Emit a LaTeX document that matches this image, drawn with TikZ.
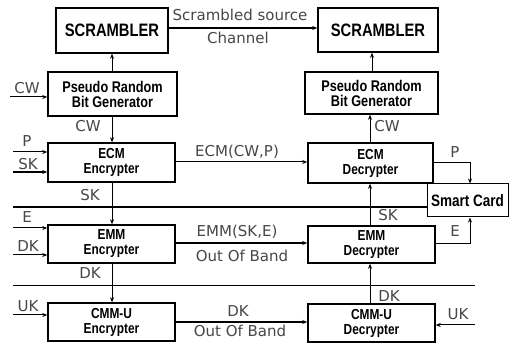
\documentclass[tikz,border=0pt]{standalone}
\usepackage{fontspec}
\usetikzlibrary{arrows.meta}
\newfontfamily\boxf[FakeStretch=0.82]{Liberation Sans}
\newfontfamily\labf{DejaVu Sans}
\tikzset{
  blk/.style={draw, line width=1.5pt, inner sep=0pt, align=center, text=black},
  bigtxt/.style={font=\boxf\bfseries\fontsize{18}{19}\selectfont},
  midtxt/.style={font=\boxf\bfseries\fontsize{15.5}{15}\selectfont},
  smtxt/.style={font=\boxf\bfseries\fontsize{14.5}{15}\selectfont},
  sctxt/.style={font=\boxf\bfseries\fontsize{16.5}{17}\selectfont},
  lab/.style={font=\labf\fontsize{15}{16}\selectfont, text=black!72, inner sep=0pt},
  conn/.style={line width=1pt, -{Stealth[length=5pt,width=4pt]}},
}
\begin{document}
\begin{tikzpicture}[x=1pt,y=-1pt]
\useasboundingbox (0,0) rectangle (509,344);
\fill[white] (0,0) rectangle (509,344);
% boxes
\node[blk,bigtxt,minimum width=112pt,minimum height=45pt] (scrL) at (112,30.5) {SCRAMBLER};
\node[blk,bigtxt,minimum width=120pt,minimum height=44pt] (scrR) at (378,30) {SCRAMBLER};
\node[blk,midtxt,minimum width=129pt,minimum height=44pt] (prbgL) at (112.5,94) {Pseudo Random\\Bit Generator};
\node[blk,midtxt,minimum width=133pt,minimum height=42pt] (prbgR) at (371.5,93) {Pseudo Random\\Bit Generator};
\node[blk,smtxt,minimum width=127pt,minimum height=39pt] (ecmE) at (111.5,162.5) {ECM\\Encrypter};
\node[blk,smtxt,minimum width=125pt,minimum height=40pt] (ecmD) at (370.5,163) {ECM\\Decrypter};
\node[blk,smtxt,minimum width=127pt,minimum height=38pt] (emmE) at (111.5,244) {EMM\\Encrypter};
\node[blk,smtxt,minimum width=127pt,minimum height=37pt] (emmD) at (371.5,244.5) {EMM\\Decrypter};
\node[blk,smtxt,minimum width=127pt,minimum height=38pt] (cmmE) at (111.5,322) {CMM-U\\Encrypter};
\node[blk,smtxt,minimum width=127pt,minimum height=38pt] (cmmD) at (371.5,323) {CMM-U\\Decrypter};
\node[blk,sctxt,line width=1pt,minimum width=81pt,minimum height=33pt] (sc) at (467.5,200.5) {Smart Card};
% free ends
\coordinate (cwin) at (10,97);
\coordinate (pin) at (13,152);
\coordinate (skin) at (13,172);
\coordinate (ein) at (13,228);
\coordinate (dkin) at (13,255);
\coordinate (ukin) at (13,315);
\coordinate (ukr) at (475,325);
\coordinate (thA) at (13,207);
\coordinate (tnA) at (13,285);
\coordinate (tnB) at (475,285);
% top channel
\draw[conn,line width=1.3pt] (scrL.east |- 0,28) -- (scrR.west |- 0,28);
\node[lab] (lscr) at (240,15) {Scrambled source};
\node[lab] (lch) at (238,38) {Channel};
% left column verticals
\draw[conn] (prbgL.north -| 112,0) -- (scrL.south -| 112,0);
\draw[conn] (prbgL.south -| 112,0) -- (ecmE.north -| 112,0);
\node[lab] (lcw1) at (88,126) {CW};
\draw[conn] (ecmE.south -| 112,0) -- (emmE.north -| 112,0);
\node[lab] (lsk1) at (90,195) {SK};
\draw[conn] (emmE.south -| 112,0) -- (cmmE.north -| 112,0);
\node[lab] (ldk1) at (90,273) {DK};
% right column verticals
\draw[conn] (prbgR.north -| 372,0) -- (scrR.south -| 372,0);
\draw[conn] (ecmD.north -| 370,0) -- (prbgR.south -| 370,0);
\node[lab] (lcw2) at (387,126) {CW};
\draw[conn] (emmD.north -| 370,0) -- (ecmD.south -| 370,0);
\node[lab] (lsk2) at (388,215) {SK};
\draw[conn] (cmmD.north -| 370,0) -- (emmD.south -| 370,0);
\node[lab] (ldk2) at (389,296) {DK};
% inputs left
\draw[conn] (cwin) -- (cwin -| prbgL.west);
\node[lab] (lcw0) at (27,88) {CW};
\draw[conn] (pin) -- (pin -| ecmE.west);
\node[lab] (lp0) at (27,141) {P};
\draw[conn,line width=1.3pt] (skin) -- (skin -| ecmE.west);
\node[lab] (lsk0) at (28,164) {SK};
\draw[conn] (ein) -- (ein -| emmE.west);
\node[lab] (le0) at (27,217) {E};
\draw[conn] (dkin) -- (dkin -| emmE.west);
\node[lab] (ldk0) at (28,246) {DK};
\draw[conn] (ukin) -- (ukin -| cmmE.west);
\node[lab] (luk0) at (28,306) {UK};
% horizontal separators
\draw[line width=1.8pt] (thA) -- (thA -| sc.west);
\draw[line width=0.8pt] (tnA) -- (tnB);
% messages
\draw[conn] (ecmE.east |- 0,162) -- (ecmD.west |- 0,162);
\node[lab] (lecm) at (237,152) {ECM(CW,P)};
\draw[conn,line width=1.3pt] (emmE.east |- 0,243) -- (emmD.west |- 0,243);
\node[lab] (lemm) at (237,232) {EMM(SK,E)};
\node[lab] (loob1) at (242,256) {Out Of Band};
\draw[conn,line width=1.3pt] (cmmE.east |- 0,322) -- (cmmD.west |- 0,322);
\node[lab] (ldk3) at (238,311) {DK};
\node[lab] (loob2) at (240,331) {Out Of Band};
% smart card links
\draw[conn] (ecmD.east |- 0,163) -- (470,163) -- (sc.north -| 470,0);
\node[lab] (lp1) at (455,152) {P};
\draw[conn] (emmD.east |- 0,244) -- (470,244) -- (sc.south -| 470,0);
\node[lab] (le1) at (455,231) {E};
\draw[conn] (ukr) -- (ukr -| cmmD.east);
\node[lab] (luk1) at (458,314) {UK};
\end{tikzpicture}
\end{document}
